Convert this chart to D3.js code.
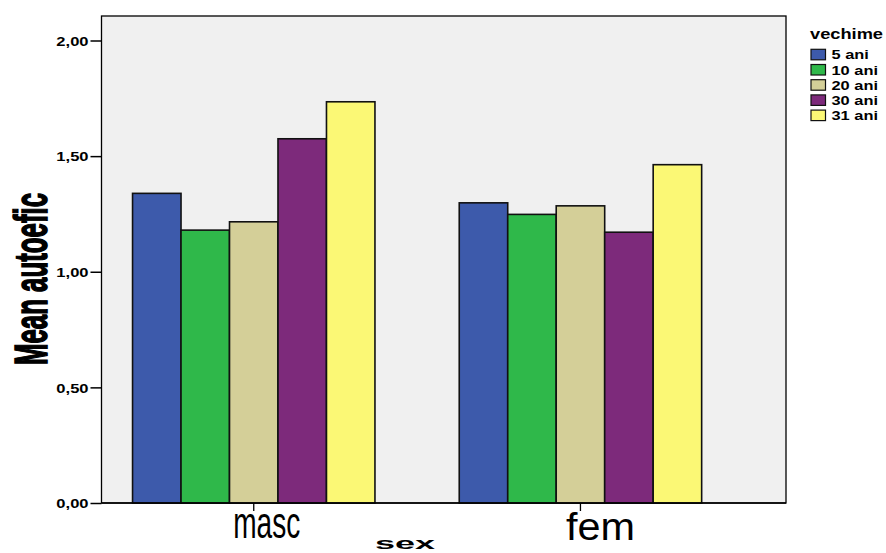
<!DOCTYPE html>
<html><head><meta charset="utf-8">
<script src="https://cdn.jsdelivr.net/npm/d3@7"></script>
<style>body{margin:0;background:#fff}svg{display:block}text{font-family:"Liberation Sans",Arial,sans-serif}</style>
</head><body>
<script>
const categories = ["masc", "fem"];
const seriesNames = ["5 ani", "10 ani", "20 ani", "30 ani", "31 ani"];
const values5 = [1.339, 1.298];
const values10 = [1.180, 1.248];
const values20 = [1.216, 1.285];
const values30 = [1.575, 1.171];
const values31 = [1.735, 1.463];
const yTicks = [0, 0.5, 1.0, 1.5, 2.0];
const colors = ["#3d5aab", "#2fb84a", "#d4cf98", "#7d2a7b", "#fbf875"];
const seriesValues = [values5, values10, values20, values30, values31];

const W = 886, H = 553;
const frame = {left: 101.5, top: 16, right: 786, bottom: 503};
const svg = d3.select("body").append("svg").attr("width", W).attr("height", H);

const y = d3.scaleLinear().domain([0, 2]).range([503, 40.5]);
const x0 = d3.scaleBand().domain(categories).range([90.4, 743.8]).paddingInner(0.258).paddingOuter(0.129);
const x1 = d3.scaleBand().domain(seriesNames).range([0, x0.bandwidth()]);

// frame
svg.append("rect").attr("x", frame.left).attr("y", frame.top)
  .attr("width", frame.right - frame.left).attr("height", frame.bottom - frame.top)
  .attr("fill", "#f0f0f0").attr("stroke", "#000").attr("stroke-width", 1.3);

// bars
const rows = [];
categories.forEach((c, ci) => seriesNames.forEach((s, si) => rows.push({c, s, si, v: seriesValues[si][ci]})));
svg.append("g").selectAll("rect").data(rows).join("rect")
  .attr("x", d => x0(d.c) + x1(d.s))
  .attr("y", d => y(d.v))
  .attr("width", x1.bandwidth())
  .attr("height", d => y(0) - y(d.v))
  .attr("fill", d => colors[d.si])
  .attr("stroke", "#111").attr("stroke-width", 1.6);

// bottom axis line
svg.append("line").attr("x1", frame.left).attr("x2", frame.right).attr("y1", y(0)).attr("y2", y(0))
  .attr("stroke", "#000").attr("stroke-width", 1.6);

// y axis
const fmt = v => d3.format(".2f")(v).replace(".", ",");
const yAxis = d3.axisLeft(y).tickValues(yTicks).tickFormat(fmt).tickSize(11).tickPadding(2);
const yg = svg.append("g").attr("transform", `translate(${frame.left},0)`).call(yAxis);
yg.select(".domain").remove();
yg.selectAll(".tick line").attr("stroke", "#000").attr("stroke-width", 1.5);
yg.selectAll(".tick text").attr("font-size", 13).attr("font-weight", "bold").attr("fill", "#000")
  .attr("font-family", "'Liberation Sans',Arial,sans-serif").attr("dy", "0.36em");
function widen(sel, f) {
  sel.each(function () { const n = this.getComputedTextLength(); d3.select(this).attr("textLength", n * f).attr("lengthAdjust", "spacingAndGlyphs"); });
}
widen(yg.selectAll(".tick text"), 1.27);

// x axis ticks
const xg = svg.append("g").attr("transform", `translate(0,${y(0)})`)
  .call(d3.axisBottom(x0).tickSize(8).tickFormat(""));
xg.select(".domain").remove();
xg.selectAll(".tick line").attr("stroke", "#000").attr("stroke-width", 1.3);

const xLabelStyle = {masc: {dx: 13, size: 44, len: 67, base: 538}, fem: {dx: 20, size: 38, len: 69, base: 540}};
svg.append("g").selectAll("text").data(categories).join("text")
  .attr("x", d => x0(d) + x0.bandwidth() / 2 + xLabelStyle[d].dx)
  .attr("y", d => xLabelStyle[d].base)
  .attr("text-anchor", "middle")
  .attr("font-size", d => xLabelStyle[d].size)
  .attr("textLength", d => xLabelStyle[d].len).attr("lengthAdjust", "spacingAndGlyphs")
  .text(d => d);

// axis titles
svg.append("text").attr("x", 405).attr("y", 548.5).attr("text-anchor", "middle")
  .attr("font-size", 16).attr("font-weight", "bold")
  .attr("textLength", 60).attr("lengthAdjust", "spacingAndGlyphs").text("sex");
svg.append("text").attr("transform", "translate(47,279) rotate(-90)").attr("text-anchor", "middle")
  .attr("font-size", 47).attr("font-weight", "bold")
  .attr("stroke", "#000").attr("stroke-width", 1.6)
  .attr("textLength", 172).attr("lengthAdjust", "spacingAndGlyphs").text("Mean autoefic");

// legend
const lg = svg.append("g");
const lt = lg.append("text").attr("x", 810).attr("y", 39).attr("font-size", 14).attr("font-weight", "bold").text("vechime");
lt.attr("textLength", 73).attr("lengthAdjust", "spacingAndGlyphs");
const items = lg.selectAll("g.item").data(seriesNames).join("g").attr("class", "item")
  .attr("transform", (d, i) => `translate(811,${49.3 + i * 15.2})`);
items.append("rect").attr("width", 14.5).attr("height", 10.5).attr("fill", (d, i) => colors[i])
  .attr("stroke", "#111").attr("stroke-width", 1.2);
const itx = items.append("text").attr("x", 20.5).attr("y", 10).attr("font-size", 12.8).attr("font-weight", "bold").text(d => d);
widen(itx, 1.28);
</script>
</body></html>
